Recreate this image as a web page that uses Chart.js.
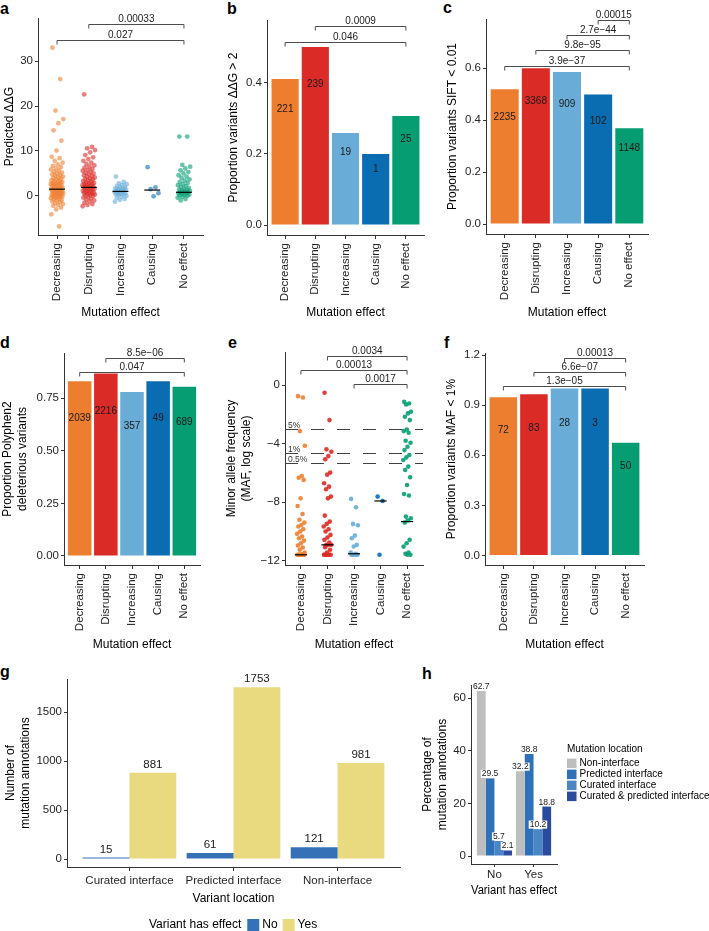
<!DOCTYPE html>
<html>
<head>
<meta charset="utf-8">
<script src="https://cdn.jsdelivr.net/npm/chart.js@4.4.1/dist/chart.umd.min.js"></script>
<style>
body { margin: 0; background: #fff; width: 709px; height: 931px; position: relative; overflow: hidden; font-family: "Liberation Sans", Arial, sans-serif; }
canvas { position: absolute; }
.lab { position: absolute; font-weight: bold; font-size: 16px; line-height: 16px; color: #000; }
</style>
</head>
<body>
<div class="lab" style="left:0px;top:1px">a</div>
<div class="lab" style="left:227px;top:1px">b</div>
<div class="lab" style="left:443px;top:0px">c</div>
<div class="lab" style="left:0px;top:335px">d</div>
<div class="lab" style="left:228px;top:335px">e</div>
<div class="lab" style="left:444px;top:335px">f</div>
<div class="lab" style="left:0px;top:664px">g</div>
<div class="lab" style="left:422px;top:666px">h</div>
<canvas id="pa"></canvas>
<canvas id="pb"></canvas>
<canvas id="pc"></canvas>
<canvas id="pd"></canvas>
<canvas id="pe"></canvas>
<canvas id="pf"></canvas>
<canvas id="pg"></canvas>
<canvas id="ph"></canvas>
<script>
// ---- data ----
const effects = ['Decreasing', 'Disrupting', 'Increasing', 'Causing', 'No effect'];
const effectColors = ['#EE7E2F', '#DB2B27', '#68ACD7', '#0A6DB2', '#079D73'];

// a: predicted ddG per effect group
const ddgDecreasing = [33, 26, 19, 17.1, 16.2, 14.6, 12.3, 10.1, 8.7, 8.4, 7.8, 7.4, 7.0, 6.7, 6.4, 6.1, 5.9, 5.6, 5.4, 5.2, 5.0, 4.8, 4.6, 4.5, 4.3, 4.1, 4.0, 3.8, 3.7, 3.5, 3.4, 3.3, 3.1, 3.0, 2.9, 2.8, 2.7, 2.6, 2.5, 2.4, 2.3, 2.2, 2.1, 2.0, 1.9, 1.8, 1.7, 1.6, 1.5, 1.5, 1.4, 1.3, 1.2, 1.1, 1.0, 1.0, 0.9, 0.8, 0.7, 0.6, 0.5, 0.5, 0.4, 0.3, 0.2, 0.1, 0.0, -0.1, -0.2, -0.3, -0.4, -0.5, -0.6, -0.7, -0.9, -1.0, -1.2, -1.4, -1.6, -1.8, -2.0, -2.2, -2.6, -3.0, -4.1, -6.8];
const ddgDisrupting = [22.6, 10.9, 10.6, 10.2, 9.7, 9.1, 8.6, 8.2, 7.8, 7.4, 7.1, 6.8, 6.5, 6.3, 6.0, 5.8, 5.6, 5.4, 5.2, 5.0, 4.8, 4.6, 4.4, 4.3, 4.1, 3.9, 3.8, 3.6, 3.5, 3.3, 3.2, 3.0, 2.9, 2.8, 2.7, 2.6, 2.5, 2.4, 2.3, 2.2, 2.1, 2.0, 1.9, 1.8, 1.7, 1.6, 1.5, 1.4, 1.3, 1.2, 1.1, 1.0, 0.9, 0.8, 0.7, 0.6, 0.5, 0.4, 0.3, 0.2, 0.1, 0.0, -0.2, -0.4, -0.6, -0.8, -1.0, -1.2, -1.5, -1.8, -2.0, -2.3];
const ddgIncreasing = [4.3, 3.1, 2.8, 2.6, 2.4, 2.2, 2.0, 1.9, 1.7, 1.6, 1.5, 1.4, 1.3, 1.2, 1.1, 1.0, 0.9, 0.8, 0.7, 0.6, 0.5, 0.4, 0.3, 0.2, 0.0, -0.2, -0.4, -0.7, -0.9, -1.3];
const ddgCausing = [6.4, 1.9, 1.5, 0.6, -0.1];
const ddgNoEffect = [13.2, 13.2, 6.9, 6.5, 6.1, 5.7, 5.3, 5.0, 4.6, 4.3, 4.0, 3.7, 3.4, 3.1, 2.9, 2.6, 2.4, 2.2, 2.0, 1.8, 1.6, 1.4, 1.3, 1.2, 1.1, 1.0, 0.9, 0.8, 0.7, 0.6, 0.5, 0.4, 0.3, 0.2, 0.1, 0.0, -0.2, -0.4, -0.7, -1.0];
const ddgMedians = [1.5, 1.9, 1.0, 1.3, 0.8];
const pairsA = [[1, 4], [0, 4]];
const pvalsA = ['0.00033', '0.027'];

// b: proportion ddG > 2
const propDdg = [0.411, 0.501, 0.259, 0.200, 0.307];
const countsDdg = [221, 239, 19, 1, 25];
const pairsB = [[1, 4], [0, 4]];
const pvalsB = ['0.0009', '0.046'];

// c: proportion SIFT < 0.01
const propSift = [0.519, 0.600, 0.586, 0.499, 0.369];
const countsSift = [2235, 3368, 909, 102, 1148];
const pairsC = [[3, 4], [2, 4], [1, 4], [0, 4]];
const pvalsC = ['0.00015', '2.7e\u221244', '9.8e\u221295', '3.9e\u221237'];

// d: proportion Polyphen2 deleterious
const propPoly = [0.831, 0.868, 0.779, 0.831, 0.804];
const countsPoly = [2039, 2216, 357, 49, 689];
const pairsD = [[1, 4], [0, 4]];
const pvalsD = ['8.5e\u221206', '0.047'];

// e: log MAF per effect group
const mafDecreasing = [-0.75, -0.84, -3.14, -4.14, -6.21, -6.33, -6.48, -7.74, -8.26, -8.81, -9.2, -9.4, -9.56, -9.67, -9.85, -10.01, -10.17, -10.35, -10.47, -10.63, -10.81, -10.97, -11.1, -11.26, -11.44, -11.56, -11.6, -11.6, -11.6, -11.6, -11.6, -11.6, -11.6];
const mafDisrupting = [-0.52, -2.39, -4.39, -4.55, -4.85, -5.07, -5.98, -6.12, -6.71, -6.94, -7.12, -7.62, -7.74, -8.92, -9.33, -9.49, -9.67, -9.85, -10.01, -10.24, -10.42, -10.58, -10.76, -10.92, -10.92, -10.92, -11.08, -11.26, -11.44, -11.6, -11.6, -11.6, -11.6, -11.6, -11.6];
const mafIncreasing = [-7.78, -8.35, -9.49, -9.58, -10.29, -10.47, -10.92, -11.03, -11.44, -11.53, -11.6, -11.6, -11.6, -11.6, -11.6];
const mafCausing = [-7.62, -7.92, -11.6];
const mafNoEffect = [-1.14, -1.25, -1.32, -1.82, -1.93, -2.16, -2.39, -3.03, -3.14, -3.25, -3.80, -3.94, -4.21, -4.44, -4.78, -4.94, -5.12, -5.57, -5.80, -6.30, -6.83, -7.44, -7.55, -8.99, -9.10, -9.26, -9.40, -10.58, -10.81, -11.04, -11.44, -11.53, -11.6, -11.6];
const mafMedians = [-11.6, -10.92, -11.53, -7.92, -9.33];
const mafCutoffs = [Math.log(0.05), Math.log(0.01), Math.log(0.005)];
const mafCutoffLabels = ['5%', '1%', '0.5%'];
const pairsE = [[1, 4], [0, 4], [2, 4]];
const pvalsE = ['0.0034', '0.00013', '0.0017'];

// f: proportion MAF < 1%
const propMaf = [0.947, 0.965, 1.0, 1.0, 0.675];
const countsMaf = [72, 83, 28, 3, 50];
const pairsF = [[2, 4], [1, 4], [0, 4]];
const pvalsF = ['0.00013', '6.6e\u221207', '1.3e\u221205'];

// g: annotations by variant location
const locations = ['Curated interface', 'Predicted interface', 'Non-interface'];
const annotNo = [15, 61, 121];
const annotYes = [881, 1753, 981];

// h: percentage by effect
const hasEffect = ['No', 'Yes'];
const pctNonInterface = [62.7, 32.2];
const pctPredicted = [29.5, 38.8];
const pctCurated = [5.7, 10.2];
const pctCuratedPredicted = [2.1, 18.8];

// ---- helpers ----
const FONT = '"Liberation Sans", Arial, sans-serif';
const AX = '#333333';
const TXT = '#262626';
Chart.defaults.font.family = FONT;
Chart.defaults.color = TXT;

function place(id, box) {
    const c = document.getElementById(id);
    c.width = box.w;
    c.height = box.h;
    c.style.left = box.x + 'px';
    c.style.top = box.y + 'px';
    return c;
}

function rgba(hex, a) {
    const n = parseInt(hex.slice(1), 16);
    return 'rgba(' + (n >> 16) + ',' + ((n >> 8) & 255) + ',' + (n & 255) + ',' + a + ')';
}

// deterministic horizontal spread for the strip plots
function jitter(k, w) {
    return (((k * 0.618034 + 0.137) % 1) - 0.5) * 2 * w;
}

function makeOptions(p) {
    const b = p.box, a = p.area;
    return {
        responsive: false,
        animation: false,
        events: [],
        layout: { padding: { left: 0, top: a.t - b.y, right: b.x + b.w - a.r, bottom: 0 } },
        plugins: { legend: { display: false }, tooltip: { enabled: false } },
        scales: {
            x: {
                type: 'linear', offset: false, min: p.x.min, max: p.x.max,
                afterFit: s => { s.height = b.y + b.h - a.b; },
                afterBuildTicks: s => { s.ticks = p.x.labels.map((_, i) => ({ value: i })); },
                grid: { drawOnChartArea: false, drawTicks: true, tickLength: p.x.tickLen, color: AX, offset: false },
                border: { display: true, color: AX, width: 1 },
                ticks: { autoSkip: false, minRotation: p.x.rot, maxRotation: p.x.rot, padding: p.x.pad, color: TXT, font: { size: 11.5 }, callback: v => p.x.labels[v] },
                title: { display: true, text: p.x.title, color: '#000', font: { size: 12 }, padding: { top: 0, bottom: p.x.titlePad } }
            },
            y: {
                min: p.y.min, max: p.y.max,
                afterFit: s => { s.width = a.l - b.x; },
                afterBuildTicks: s => { s.ticks = p.y.ticks.map(v => ({ value: v })); },
                grid: { drawOnChartArea: false, drawTicks: true, tickLength: 3, color: AX },
                border: { display: true, color: AX, width: 1 },
                ticks: { padding: 2, color: TXT, font: { size: 11.5 }, callback: p.y.fmt },
                title: { display: true, text: p.y.title, color: '#000', font: { size: 12 }, padding: { top: p.y.titlePad, bottom: 0 } }
            }
        }
    };
}

function bracketPlugin(pairs, pvals, levels) {
    return {
        id: 'brackets',
        afterDraw(chart) {
            const { ctx, scales: { x, y } } = chart;
            ctx.save();
            ctx.strokeStyle = '#4d4d4d';
            ctx.lineWidth = 1;
            ctx.fillStyle = '#222';
            ctx.font = '10px ' + FONT;
            ctx.textAlign = 'center';
            ctx.textBaseline = 'alphabetic';
            pairs.forEach((pr, k) => {
                const x1 = x.getPixelForValue(pr[0]);
                const x2 = x.getPixelForValue(pr[1]);
                const py = Math.round(y.getPixelForValue(levels[k])) + 0.5;
                ctx.beginPath();
                ctx.moveTo(x1, py + 4);
                ctx.lineTo(x1, py);
                ctx.lineTo(x2, py);
                ctx.lineTo(x2, py + 4);
                ctx.stroke();
                ctx.fillText(pvals[k], (x1 + x2) / 2, py - 3);
            });
            ctx.restore();
        }
    };
}

function insideLabels(counts) {
    return {
        id: 'inside',
        afterDatasetsDraw(chart) {
            const { ctx, scales: { x, y } } = chart;
            const pts = chart.data.datasets[0].data;
            ctx.save();
            ctx.font = '10px ' + FONT;
            ctx.fillStyle = '#1a1a1a';
            ctx.textAlign = 'center';
            ctx.textBaseline = 'middle';
            pts.forEach((d, i) => {
                ctx.fillText(String(counts[i]), x.getPixelForValue(d.x), y.getPixelForValue(d.y * 0.79));
            });
            ctx.restore();
        }
    };
}

function medianPlugin(medians, half) {
    return {
        id: 'medians',
        afterDatasetsDraw(chart) {
            const { ctx, scales: { x, y } } = chart;
            ctx.save();
            ctx.strokeStyle = '#000';
            ctx.lineWidth = 1.2;
            medians.forEach((m, i) => {
                const py = y.getPixelForValue(m);
                ctx.beginPath();
                ctx.moveTo(x.getPixelForValue(i - half), py);
                ctx.lineTo(x.getPixelForValue(i + half), py);
                ctx.stroke();
            });
            ctx.restore();
        }
    };
}

function stripDatasets(groups, w, alpha, radius) {
    return groups.map((vals, i) => ({
        data: vals.map((v, k) => ({ x: i + jitter(k, w), y: v })),
        backgroundColor: rgba(effectColors[i], alpha),
        borderWidth: 0,
        pointRadius: radius
    }));
}

function barDataset(vals) {
    return [{
        data: vals.map((v, i) => ({ x: i, y: v })),
        backgroundColor: effectColors,
        borderWidth: 0,
        categoryPercentage: 1,
        barPercentage: 0.9
    }];
}

const effX = (rot, title) => ({ min: -0.6, max: 4.6, labels: effects, rot: 90, tickLen: 4, pad: 4, title: 'Mutation effect', titlePad: title });
const fmt1 = v => v.toFixed(1);

// ---- a ----
const boxA = { x: 0, y: 0, w: 228, h: 325 };
new Chart(place('pa', boxA), {
    type: 'scatter',
    data: { datasets: stripDatasets([ddgDecreasing, ddgDisrupting, ddgIncreasing, ddgCausing, ddgNoEffect], 0.2, 0.6, 2.4) },
    options: makeOptions({
        box: boxA, area: { l: 38, r: 203, t: 18, b: 235 },
        x: effX(90, 4.8),
        y: { min: -8.7, max: 39.6, ticks: [0, 10, 20, 30], fmt: v => String(v), title: 'Predicted \u0394\u0394G', titlePad: 2.3 }
    }),
    plugins: [medianPlugin(ddgMedians, 0.25), bracketPlugin(pairsA, pvalsA, [38.2, 34.7])]
});

// ---- b ----
const boxB = { x: 224, y: 0, w: 234, h: 325 };
new Chart(place('pb', boxB), {
    type: 'bar',
    data: { datasets: barDataset(propDdg) },
    options: makeOptions({
        box: boxB, area: { l: 267, r: 424, t: 20, b: 235 },
        x: effX(90, 4.8),
        y: { min: -0.028, max: 0.577, ticks: [0, 0.2, 0.4], fmt: fmt1, title: 'Proportion variants \u0394\u0394G > 2', titlePad: 2.8 }
    }),
    plugins: [insideLabels(countsDdg), bracketPlugin(pairsB, pvalsB, [0.5606, 0.5155])]
});

// ---- c ----
const boxC = { x: 442, y: 0, w: 267, h: 325 };
new Chart(place('pc', boxC), {
    type: 'bar',
    data: { datasets: barDataset(propSift) },
    options: makeOptions({
        box: boxC, area: { l: 486, r: 648, t: 19, b: 234 },
        x: effX(90, 4.8),
        y: { min: -0.0385, max: 0.79, ticks: [0, 0.2, 0.4, 0.6], fmt: fmt1, title: 'Proportion variants SIFT < 0.01', titlePad: 3.8 }
    }),
    plugins: [insideLabels(countsSift), bracketPlugin(pairsC, pvalsC, [0.787, 0.727, 0.669, 0.609])]
});

// ---- d ----
const boxD = { x: 0, y: 325, w: 226, h: 330 };
new Chart(place('pd', boxD), {
    type: 'bar',
    data: { datasets: barDataset(propPoly) },
    options: makeOptions({
        box: boxD, area: { l: 64, r: 200, t: 353, b: 565 },
        x: effX(90, 2.8),
        y: { min: -0.043, max: 0.965, ticks: [0, 0.25, 0.5, 0.75], fmt: v => v.toFixed(2), title: ['Proportion Polyphen2', 'deleterious variants'], titlePad: 0.8 }
    }),
    plugins: [insideLabels(countsPoly), bracketPlugin(pairsD, pvalsD, [0.939, 0.874])]
});

// ---- e ----
const cutoffPlugin = {
    id: 'cutoffs',
    beforeDatasetsDraw(chart) {
        const { ctx, chartArea, scales: { y } } = chart;
        ctx.save();
        ctx.strokeStyle = '#404040';
        ctx.lineWidth = 1;
        ctx.setLineDash([13, 13]);
        ctx.font = '8.5px ' + FONT;
        ctx.fillStyle = '#333';
        ctx.textAlign = 'left';
        ctx.textBaseline = 'alphabetic';
        mafCutoffs.forEach((v, k) => {
            const py = Math.round(y.getPixelForValue(v)) + 0.5;
            ctx.beginPath();
            ctx.moveTo(chartArea.left, py);
            ctx.lineTo(chartArea.right, py);
            ctx.stroke();
            ctx.fillText(mafCutoffLabels[k], chartArea.left + 3, py - 2);
        });
        ctx.restore();
    }
};
const boxE = { x: 222, y: 325, w: 224, h: 330 };
new Chart(place('pe', boxE), {
    type: 'scatter',
    data: { datasets: stripDatasets([mafDecreasing, mafDisrupting, mafIncreasing, mafCausing, mafNoEffect], 0.15, 0.9, 2.3) },
    options: makeOptions({
        box: boxE, area: { l: 285, r: 423, t: 352, b: 565 },
        x: effX(90, 2.8),
        y: { min: -12.3, max: 2.27, ticks: [-12, -8, -4, 0], fmt: v => (v < 0 ? '\u2212' + Math.abs(v) : String(v)), title: ['Minor allele frequency', '(MAF, log scale)'], titlePad: 2.8 }
    }),
    plugins: [cutoffPlugin, medianPlugin(mafMedians, 0.23), bracketPlugin(pairsE, pvalsE, [2.03, 1.02, 0.05])]
});

// ---- f ----
const boxF = { x: 442, y: 325, w: 267, h: 330 };
new Chart(place('pf', boxF), {
    type: 'bar',
    data: { datasets: barDataset(propMaf) },
    options: makeOptions({
        box: boxF, area: { l: 485, r: 644, t: 353, b: 565 },
        x: effX(90, 2.8),
        y: { min: -0.057, max: 1.212, ticks: [0, 0.3, 0.6, 0.9, 1.2], fmt: fmt1, title: 'Proportion variants MAF < 1%', titlePad: 2.8 }
    }),
    plugins: [insideLabels(countsMaf), bracketPlugin(pairsF, pvalsF, [1.183, 1.10, 1.013])]
});

// ---- g ----
function topLabels(size, gap, backdrop) {
    return {
        id: 'toplabels',
        afterDatasetsDraw(chart) {
            const { ctx } = chart;
            ctx.save();
            ctx.font = size + 'px ' + FONT;
            ctx.textAlign = 'center';
            ctx.textBaseline = 'alphabetic';
            chart.data.datasets.forEach((ds, i) => {
                chart.getDatasetMeta(i).data.forEach((el, j) => {
                    const txt = String(ds.data[j].y);
                    const by = el.y - gap;
                    if (backdrop) {
                        const w = ctx.measureText(txt).width + 2;
                        ctx.fillStyle = '#fff';
                        ctx.fillRect(el.x - w / 2, by - size * 0.78, w, size * 0.95);
                    }
                    ctx.fillStyle = '#1a1a1a';
                    ctx.fillText(txt, el.x, by);
                });
            });
            ctx.restore();
        }
    };
}

const legendG = {
    id: 'legendG',
    afterDraw(chart) {
        const { ctx } = chart;
        const cy = 925 - boxG.y;
        ctx.save();
        ctx.font = '12px ' + FONT;
        ctx.textBaseline = 'middle';
        ctx.textAlign = 'left';
        ctx.fillStyle = '#000';
        const title = 'Variant has effect';
        ctx.fillText(title, 149, cy);
        let x = 149 + ctx.measureText(title).width + 6;
        chart.data.datasets.forEach(ds => {
            ctx.fillStyle = ds.backgroundColor;
            ctx.fillRect(x, cy - 6, 12, 12);
            ctx.fillStyle = '#000';
            ctx.fillText(ds.label, x + 15, cy);
            x += 15 + ctx.measureText(ds.label).width + 5;
        });
        ctx.restore();
    }
};

const boxG = { x: 0, y: 655, w: 415, h: 276 };
new Chart(place('pg', boxG), {
    type: 'bar',
    data: {
        datasets: [
            { label: 'No', data: annotNo.map((v, i) => ({ x: i, y: v })), backgroundColor: '#3471B7', borderWidth: 0, categoryPercentage: 0.9, barPercentage: 1 },
            { label: 'Yes', data: annotYes.map((v, i) => ({ x: i, y: v })), backgroundColor: '#E9DA80', borderWidth: 0, categoryPercentage: 0.9, barPercentage: 1 }
        ]
    },
    options: makeOptions({
        box: boxG, area: { l: 67, r: 400, t: 679, b: 867 },
        x: { min: -0.6, max: 2.6, labels: locations, rot: 0, tickLen: 4, pad: 3, title: 'Variant location', titlePad: 24.8 },
        y: { min: -81.6, max: 1837, ticks: [0, 500, 1000, 1500], fmt: v => String(v), title: ['Number of', 'mutation annotations'], titlePad: 3.8 }
    }),
    plugins: [topLabels(11.5, 5, false), legendG]
});

// ---- h ----
const legendH = {
    id: 'legendH',
    afterDraw(chart) {
        const { ctx } = chart;
        const ox = boxH.x, oy = boxH.y;
        ctx.save();
        ctx.font = '10px ' + FONT;
        ctx.textBaseline = 'middle';
        ctx.textAlign = 'left';
        ctx.fillStyle = '#000';
        ctx.fillText('Mutation location', 567 - ox, 749 - oy);
        chart.data.datasets.forEach((ds, k) => {
            const cy = 763.3 + k * 11 - oy;
            ctx.fillStyle = ds.backgroundColor;
            ctx.fillRect(567 - ox, cy - 4.7, 9.5, 9.5);
            ctx.fillStyle = '#000';
            ctx.fillText(ds.label, 579.5 - ox, cy);
        });
        ctx.restore();
    }
};

const boxH = { x: 415, y: 655, w: 294, h: 276 };
const hSeries = [
    ['Non-interface', pctNonInterface, '#BEBEBE'],
    ['Predicted interface', pctPredicted, '#2E71B8'],
    ['Curated interface', pctCurated, '#4A86C6'],
    ['Curated & predicted interface', pctCuratedPredicted, '#2B4B9F']
];
new Chart(place('ph', boxH), {
    type: 'bar',
    data: {
        datasets: hSeries.map(s => ({
            label: s[0],
            data: s[1].map((v, i) => ({ x: i, y: v })),
            backgroundColor: s[2],
            borderWidth: 0,
            categoryPercentage: 0.9,
            barPercentage: 1
        }))
    },
    options: makeOptions({
        box: boxH, area: { l: 471, r: 557, t: 685, b: 864 },
        x: { min: -0.6, max: 1.6, labels: hasEffect, rot: 0, tickLen: 3, pad: 1, title: 'Variant has effect', titlePad: 32.8 },
        y: { min: -3.04, max: 65, ticks: [0, 20, 40, 60], fmt: v => String(v), title: ['Percentage of', 'mutation annotations'], titlePad: 5.8 }
    }),
    plugins: [topLabels(8.5, 2, true), legendH]
});
</script>
</body>
</html>
